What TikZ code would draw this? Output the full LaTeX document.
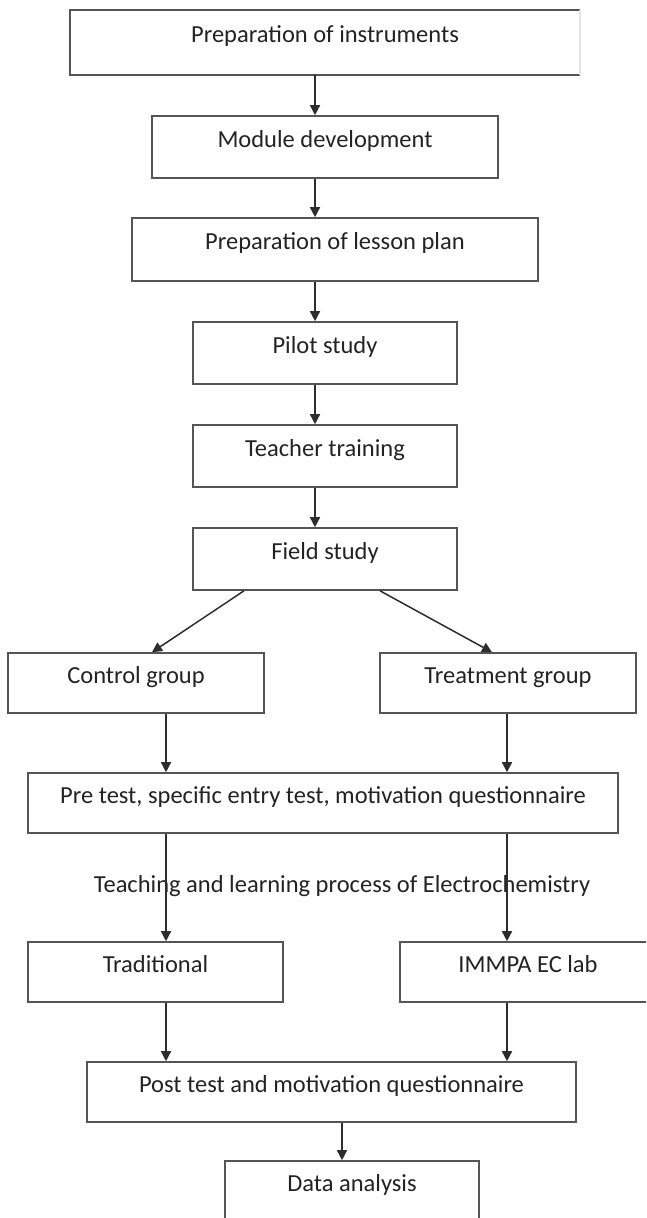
\documentclass[tikz,border=0pt]{standalone}
\usepackage{fontspec}
\setmainfont{Carlito}
\usetikzlibrary{arrows.meta}
\definecolor{edgecol}{RGB}{85,85,85}
\definecolor{arrcol}{RGB}{45,45,45}
\definecolor{txtcol}{RGB}{35,35,35}
\definecolor{faintcol}{RGB}{228,228,228}
\tikzset{
  stepbox/.style={draw=edgecol, line width=1.6pt, fill=white, rectangle,
    text=txtcol, font=\fontsize{24.5}{29}\selectfont,
    text height=12pt, text depth=12pt, inner sep=0pt},
  flowarrow/.style={draw=arrcol, line width=1.5pt,
    -{Triangle[length=10pt,width=10pt]}},
  plaintext/.style={text=txtcol, font=\fontsize{24.5}{29}\selectfont, inner sep=0pt}
}
\begin{document}
\begin{tikzpicture}[x=1pt,y=-1pt]
\useasboundingbox (0,0) rectangle (646,1218);
\clip (0,0) rectangle (646,1218);
\fill[white] (0,0) rectangle (646,1218);

% boxes
\node[stepbox, draw=none, minimum width=508pt, minimum height=63pt] (top) at (325,42.5) {Preparation of instruments};
\draw[edgecol, line width=1.6pt] (top.north east) -- (top.north west) -- (top.south west) -- (top.south east);
\draw[faintcol, line width=1.6pt] (top.north east) -- (top.south east);
\node[stepbox, minimum width=346pt, minimum height=62pt] (mod) at (325,147) {Module development};
\node[stepbox, minimum width=406pt, minimum height=63pt] (plan) at (335,249.5) {Preparation of lesson plan};
\node[stepbox, minimum width=264pt, minimum height=62pt] (pilot) at (325,353) {Pilot study};
\node[stepbox, minimum width=264pt, minimum height=62pt] (teach) at (325,456) {Teacher training};
\node[stepbox, minimum width=264pt, minimum height=62pt] (field) at (325,559) {Field study};
\node[stepbox, minimum width=256pt, minimum height=60pt] (ctrl) at (136,683) {Control group};
\node[stepbox, minimum width=256pt, minimum height=60pt] (treat) at (508,683) {Treatment group};
\node[stepbox, minimum width=590pt, minimum height=60pt] (pre) at (323,803) {Pre test, specific entry test, motivation questionnaire};
\node[plaintext] (proc) at (342,886) {Teaching and learning process of Electrochemistry};
\node[stepbox, minimum width=255pt, minimum height=60pt] (trad) at (155.5,972) {Traditional};
\node[stepbox, minimum width=256pt, minimum height=60pt] (immpa) at (528,972) {IMMPA EC lab};
\node[stepbox, minimum width=489pt, minimum height=60pt] (post) at (331.5,1092) {Post test and motivation questionnaire};
\node[stepbox, minimum width=254pt, minimum height=60pt] (data) at (352,1191) {Data analysis};

% column coordinates
\coordinate (cm) at (315,0);
\coordinate (cl) at (166,0);
\coordinate (cr) at (507,0);
\coordinate (cd) at (342,0);
\coordinate (dls) at (244,0);
\coordinate (dle) at (152,0);
\coordinate (drs) at (380,0);
\coordinate (dre) at (492,0);

% connectors
\draw[flowarrow] (top.south -| cm) -- (mod.north -| cm);
\draw[flowarrow] (mod.south -| cm) -- (plan.north -| cm);
\draw[flowarrow] (plan.south -| cm) -- (pilot.north -| cm);
\draw[flowarrow] (pilot.south -| cm) -- (teach.north -| cm);
\draw[flowarrow] (teach.south -| cm) -- (field.north -| cm);
\draw[flowarrow] (field.south -| dls) -- (ctrl.north -| dle);
\draw[flowarrow] (field.south -| drs) -- (treat.north -| dre);
\draw[flowarrow] (ctrl.south -| cl) -- (pre.north -| cl);
\draw[flowarrow] (treat.south -| cr) -- (pre.north -| cr);
\draw[flowarrow] (pre.south -| cl) -- (trad.north -| cl);
\draw[flowarrow] (pre.south -| cr) -- (immpa.north -| cr);
\draw[flowarrow] (trad.south -| cl) -- (post.north -| cl);
\draw[flowarrow] (immpa.south -| cr) -- (post.north -| cr);
\draw[flowarrow] (post.south -| cd) -- (data.north -| cd);
\end{tikzpicture}
\end{document}
